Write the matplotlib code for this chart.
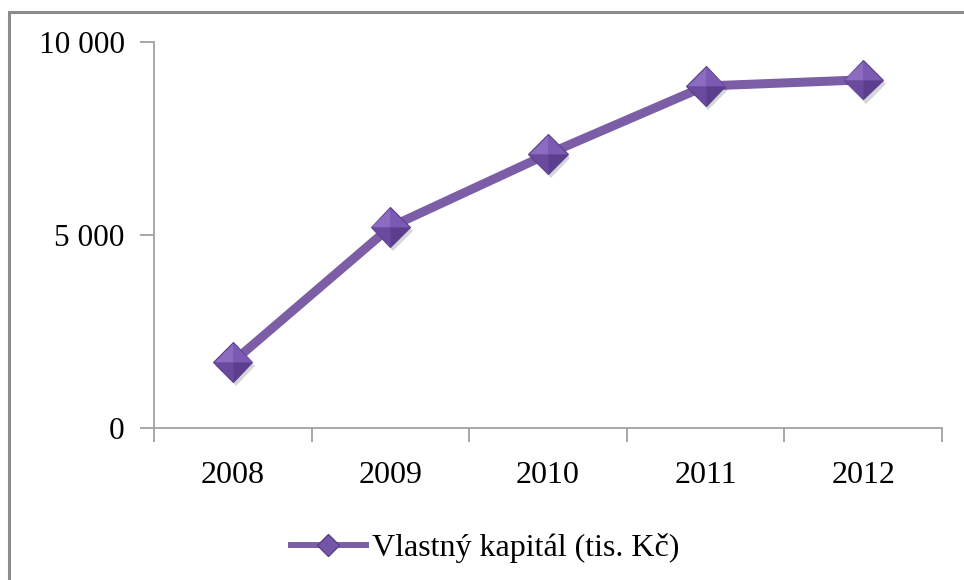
import matplotlib
matplotlib.use("Agg")
import matplotlib.pyplot as plt
import matplotlib.patheffects as pe
from matplotlib.path import Path
from matplotlib.patches import Rectangle
from matplotlib.lines import Line2D
import numpy as np

years = ["2008", "2009", "2010", "2011", "2012"]
values = [1710, 5210, 7100, 8860, 9020]
yticks = [0, 5000, 10000]
ytick_labels = ["0", "5 000", "10 000"]
legend_label = "Vlastný kapitál (tis. Kč)"

plt.rcParams['font.family'] = ['Liberation Serif', 'DejaVu Serif']

W, H = 964, 580
fig = plt.figure(figsize=(W / 100, H / 100), dpi=100)
fig.patch.set_facecolor("white")

# outer frame
fig.patches.append(Rectangle((9 / W, 1 - 12 / H - 1.2), 1.2, 1.2,
                             transform=fig.transFigure, fill=False,
                             edgecolor="#8c8c8c", linewidth=2.2))

ax = fig.add_axes([154 / W, (H - 428) / H, (942 - 154) / W, (428 - 42) / H])
x = np.arange(len(years))

line_color = "#7b5ea6"
ax.plot(x, values, color=line_color, linewidth=6.5, solid_capstyle="butt",
        zorder=2)

# pyramid diamond marker made of four facets
s = 1.0
facets = [
    ([(0, 0), (-s, 0), (0, s), (0, 0)], "#8b6cc0"),
    ([(0, 0), (0, s), (s, 0), (0, 0)], "#7a5ab2"),
    ([(0, 0), (-s, 0), (0, -s), (0, 0)], "#6a4a9e"),
    ([(0, 0), (0, -s), (s, 0), (0, 0)], "#5c3e8e"),
]
ax.plot(x, values, linestyle="none", marker="D", markersize=20,
        markerfacecolor="#6f51a5", markeredgecolor="#5a3d8a",
        markeredgewidth=0.8, zorder=3,
        path_effects=[pe.SimplePatchShadow(offset=(2, -3), alpha=0.18),
                      pe.Normal()])
codes = [Path.MOVETO, Path.LINETO, Path.LINETO, Path.CLOSEPOLY]
for verts, col in facets:
    ax.plot(x, values, linestyle="none", marker=Path(verts, codes),
            markersize=27.5, markerfacecolor=col, markeredgewidth=0, zorder=4)

ax.set_xlim(-0.5, len(years) - 0.5)
ax.set_ylim(0, 10000)
ax.set_xticks(x)
ax.set_xticklabels(years, fontsize=23)
ax.set_xticks(np.arange(-0.5, len(years)), minor=True)
ax.tick_params(axis="x", which="major", length=0, pad=24)
ax.tick_params(axis="x", which="minor", length=10, width=1.3, color="#a0a0a0")
ax.set_yticks(yticks)
ax.set_yticklabels(ytick_labels, fontsize=22.5)
ax.tick_params(axis="y", length=10, width=1.3, color="#a0a0a0", pad=11)

for side in ("top", "right"):
    ax.spines[side].set_visible(False)
for side in ("left", "bottom"):
    ax.spines[side].set_color("#a0a0a0")
    ax.spines[side].set_linewidth(1.3)

handle = Line2D([], [], color=line_color, linewidth=4.3, marker="D",
                markersize=11, markerfacecolor="#7456a8",
                markeredgecolor="#5a3d8a")
leg = fig.legend([handle], [legend_label], loc="center",
                 bbox_to_anchor=(485 / W, 1 - 548 / H), frameon=False,
                 fontsize=23, handlelength=2.35, handletextpad=0.2)

fig.savefig("out.png", dpi=100, facecolor="white")
